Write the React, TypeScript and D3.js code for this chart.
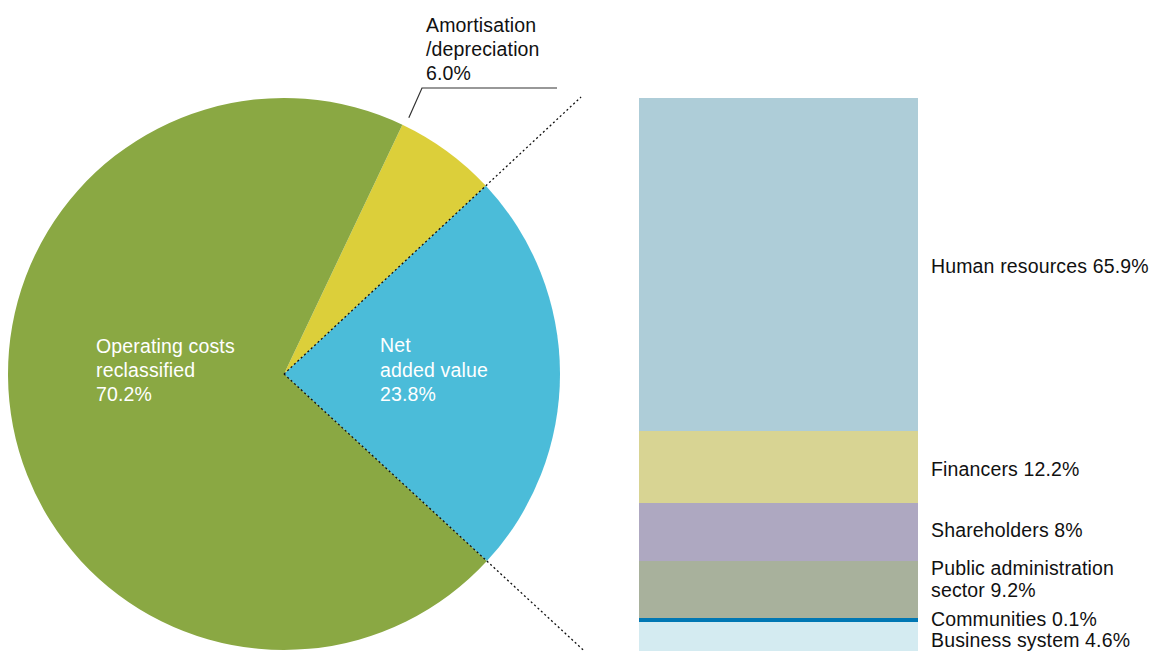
import React from "react";
import * as d3 from "d3";

// Pie data
const pieLabels = ["Amortisation /depreciation", "Net added value", "Operating costs reclassified"];
const pieValues = [6.0, 23.8, 70.2];
const pieColors = ["#dccf3a", "#4bbcd9", "#8aa843"];

// Stacked bar (breakdown of net added value)
const barCategories = ["Human resources", "Financers", "Shareholders", "Public administration sector", "Communities", "Business system"];
const barValues = [65.9, 12.2, 8, 9.2, 0.1, 4.6];
// drawn segment sizes (the bar is not drawn to scale)
const barDrawn = [333, 72, 58, 57, 4, 29];
const barColors = ["#aecdd8", "#d8d493", "#aea8c1", "#a8b19c", "#0077b3", "#d4ebf1"];
const barLabelLines = [
  ["Human resources 65.9%"],
  ["Financers 12.2%"],
  ["Shareholders 8%"],
  ["Public administration", "sector 9.2%"],
  ["Communities 0.1%"],
  ["Business system 4.6%"],
];

const W = 1153;
const H = 651;
const cx = 284;
const cy = 374;
const R = 276;
const FONT = "'Liberation Sans', Arial, Helvetica, sans-serif";
const FS = 19.5;

export default function App() {
  const startA = (25.4 * Math.PI) / 180;
  const pie = d3
    .pie<number>()
    .sort(null)
    .startAngle(startA)
    .endAngle(startA + 2 * Math.PI);
  const arcs = pie(pieValues);
  const arcGen = d3.arc<d3.PieArcDatum<number>>().innerRadius(0).outerRadius(R);

  const barTop = 98;
  const barBottom = 651;
  const barX0 = 639;
  const barX1 = 918;
  const total = d3.sum(barDrawn);
  const y = d3.scaleLinear().domain([0, total]).range([barTop, barBottom]);
  const cum: number[] = [];
  barDrawn.reduce((acc, v) => {
    cum.push(acc);
    return acc + v;
  }, 0);

  const blue = arcs[1];
  const pt = (a: number, r: number) => [cx + r * Math.sin(a), cy - r * Math.cos(a)];
  const upA = blue.startAngle;
  const loA = blue.endAngle;
  const upR = (cy - barTop + 1) / Math.cos(upA);
  const loR = (barBottom - 1 - cy) / -Math.cos(loA);
  const up = pt(upA, upR);
  const lo = pt(loA, loR);

  const lead0 = pt(arcs[0].startAngle + 0.01, R + 9);
  const leaderY = 88;

  const barLabelBaselines = [[273], [476], [537], [575, 597], [626], [647]];

  return (
    <svg
      width={W}
      height={H}
      style={{ position: "absolute", left: 0, top: 0, background: "#fff" }}
      fontFamily={FONT}
      fontSize={FS}
      letterSpacing={0.15}
    >
      <g transform={`translate(${cx},${cy})`}>
        {arcs.map((a, i) => (
          <path key={pieLabels[i]} d={arcGen(a) || ""} fill={pieColors[i]} />
        ))}
      </g>
      <line x1={cx} y1={cy} x2={up[0]} y2={up[1]} stroke="#111" strokeWidth={1.3} strokeDasharray="2 2.6" />
      <line x1={cx} y1={cy} x2={lo[0]} y2={lo[1]} stroke="#111" strokeWidth={1.3} strokeDasharray="2 2.6" />

      <polyline
        points={`${lead0[0]},${lead0[1]} 422,${leaderY} 557,${leaderY}`}
        fill="none"
        stroke="#333"
        strokeWidth={1.2}
      />
      <g fill="#111">
        <text x={426} y={32}>Amortisation</text>
        <text x={426} y={56}>/depreciation</text>
        <text x={426} y={80}>6.0%</text>
      </g>

      <g fill="#fff">
        <text x={96} y={353}>Operating costs</text>
        <text x={96} y={377}>reclassified</text>
        <text x={96} y={401}>70.2%</text>
        <text x={380} y={352}>Net</text>
        <text x={380} y={377}>added value</text>
        <text x={380} y={401}>23.8%</text>
      </g>

      {barDrawn.map((v, i) => (
        <rect
          key={barCategories[i]}
          x={barX0}
          y={y(cum[i])}
          width={barX1 - barX0}
          height={y(cum[i] + v) - y(cum[i])}
          fill={barColors[i]}
        />
      ))}
      <g fill="#111">
        {barLabelLines.map((lines, i) =>
          lines.map((t, j) => (
            <text key={`${i}-${j}`} x={931} y={barLabelBaselines[i][j]}>
              {t}
            </text>
          ))
        )}
      </g>
    </svg>
  );
}
